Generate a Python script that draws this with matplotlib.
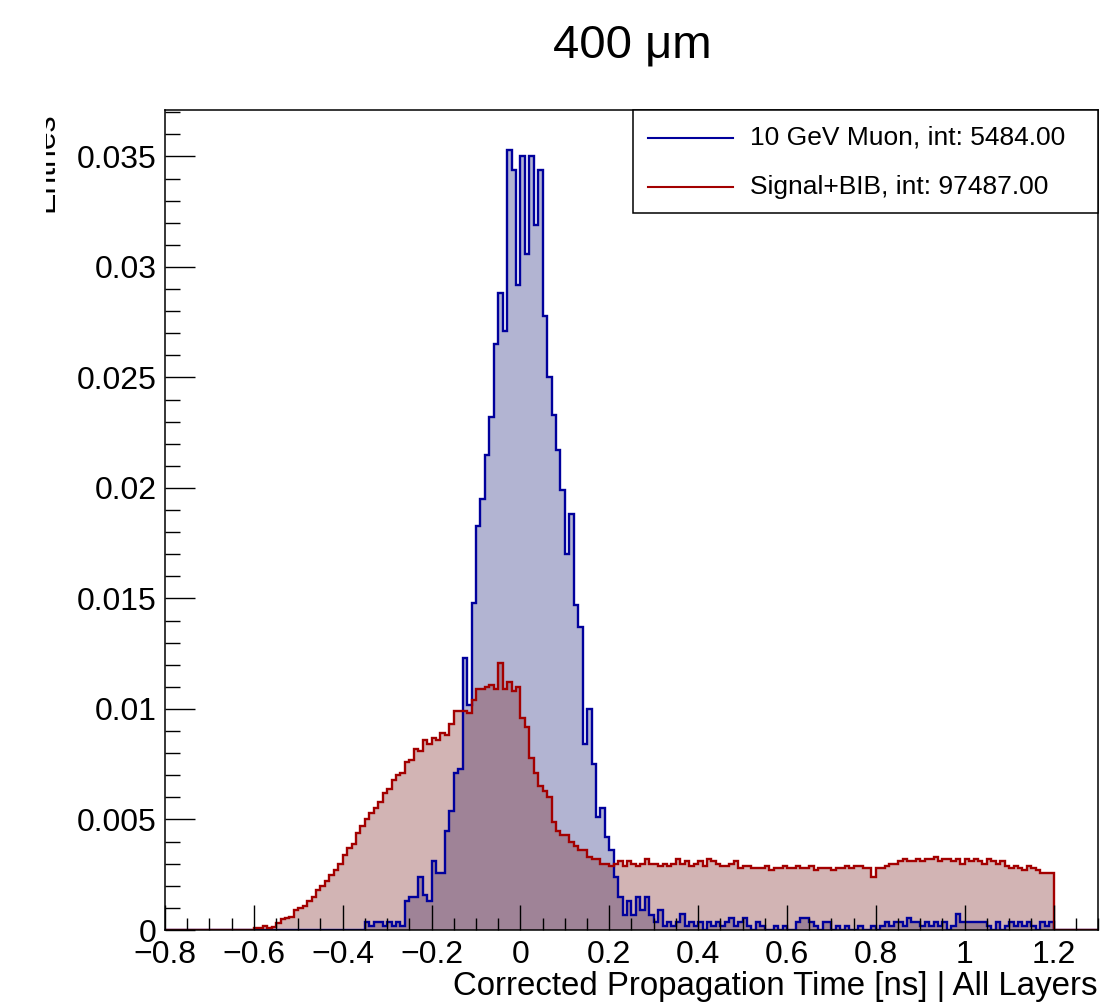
import numpy as np
import matplotlib.pyplot as plt
from matplotlib.lines import Line2D
from matplotlib.patches import Rectangle
from matplotlib.transforms import Bbox, TransformedBbox
from matplotlib.ticker import MultipleLocator, FuncFormatter

plt.rcParams['font.family'] = ['Liberation Sans', 'DejaVu Sans']

# bins: 0.01 ns from -0.8 to 1.3
edges = np.round(np.linspace(-0.8, 1.3, 211), 3)

# normalised bin contents, in units of 1e-3
bib_e3 = ([0.0] * 20 +
          [0.1, 0.1, 0.2, 0.1, 0.15, 0.3, 0.5, 0.55, 0.6, 0.9] +       # -0.60
          [1.0, 1.1, 1.3, 1.5, 1.8, 2.0, 2.2, 2.5, 2.7, 3.0] +         # -0.50
          [3.4, 3.7, 3.9, 4.4, 4.7, 5.0, 5.3, 5.5, 5.8, 6.2] +         # -0.40
          [6.4, 6.8, 7.0, 7.1, 7.6, 7.7, 8.2, 8.1, 8.6, 8.4] +         # -0.30
          [8.7, 8.6, 8.9, 8.8, 9.3, 9.9, 9.9, 9.9, 9.8, 10.4] +        # -0.20
          [10.9, 10.9, 11.0, 11.1, 10.9, 12.1, 10.9, 11.2, 10.8, 11.0] +  # -0.10
          [9.6, 9.2, 7.8, 7.1, 6.5, 6.3, 6.0, 4.9, 4.5, 4.3] +         # 0.00
          [4.3, 4.0, 3.8, 3.6, 3.6, 3.3, 3.2, 3.2, 3.0, 3.0] +         # 0.10
          [2.9, 3.0, 3.1, 2.9, 3.1, 3.0, 2.9, 3.0, 3.2, 3.0] +         # 0.20
          [3.0, 2.9, 3.0, 2.9, 3.0, 3.2, 3.0, 3.1, 2.9, 3.0] +         # 0.30
          [3.1, 2.9, 3.2, 3.1, 3.0, 2.9, 2.9, 3.0, 3.1, 2.8] +         # 0.40
          [2.9, 2.9, 2.8, 2.8, 2.8, 2.9, 2.7, 2.8, 2.8, 2.9] +         # 0.50
          [2.8, 2.8, 2.9, 2.8, 2.8, 2.9, 2.7, 2.8, 2.8, 2.8] +         # 0.60
          [2.7, 2.8, 2.8, 2.9, 2.8, 2.9, 2.9, 2.8, 2.8, 2.4] +         # 0.70
          [2.8, 2.8, 2.9, 3.0, 3.0, 3.1, 3.2, 3.1, 3.1, 3.2] +         # 0.80
          [3.1, 3.2, 3.2, 3.3, 3.1, 3.2, 3.2, 3.1, 3.2, 3.0] +         # 0.90
          [3.2, 3.1, 3.2, 3.1, 3.0, 3.2, 3.1, 3.0, 3.1, 2.9] +         # 1.00
          [2.8, 2.9, 2.8, 2.7, 2.9, 2.8, 2.7, 2.6, 2.6, 2.6] +         # 1.10
          [0.0] * 10)

muon_e3 = ([0.0] * 45 +
           [0.36, 0.18, 0.36, 0.36, 0.18, 0.36, 0.18, 0.36, 0.18] +          # -0.35
           [1.3, 1.5, 1.5, 2.4, 1.6, 1.3, 3.1, 2.6, 2.6, 4.5] +               # -0.26
           [5.4, 7.1, 7.3, 12.3, 10.2, 14.8, 18.3, 19.5, 21.5, 23.2] +        # -0.16
           [26.5, 28.8, 27.1, 35.3, 34.4, 29.2, 35.0, 30.6, 35.0, 31.9] +     # -0.06
           [34.4, 27.8, 25.0, 23.3, 21.7, 19.9, 17.0, 18.8, 14.7, 13.7] +     # 0.04
           [8.4, 10.0, 7.5, 5.1, 5.5, 4.2, 3.6, 2.4, 1.5, 0.7] +              # 0.14
           [1.3, 0.7, 1.5, 0.9, 1.5, 0.7, 0.36, 0.9, 0.18, 0.36] +            # 0.24
           [0.18, 0.36, 0.73, 0.18, 0.36, 0.18, 0.36, 0.0, 0.36, 0.18] +      # 0.34
           [0.36, 0.18, 0.36, 0.55, 0.18, 0.36, 0.55, 0.18, 0.0, 0.36] +      # 0.44
           [0.18, 0.0, 0.0, 0.18, 0.0, 0.18, 0.0, 0.0, 0.36, 0.55] +          # 0.54
           [0.55, 0.36, 0.18, 0.0, 0.36, 0.36, 0.0, 0.18, 0.0, 0.18] +        # 0.64
           [0.0, 0.0, 0.18, 0.0, 0.0, 0.18, 0.0, 0.18, 0.36, 0.18] +          # 0.74
           [0.36, 0.36, 0.18, 0.55, 0.36, 0.36, 0.18, 0.36, 0.18, 0.36] +     # 0.84
           [0.18, 0.36, 0.0, 0.18, 0.73, 0.36, 0.36, 0.36, 0.36, 0.36] +      # 0.94
           [0.36, 0.18, 0.0, 0.36, 0.0, 0.18, 0.36, 0.18, 0.36, 0.18] +       # 1.04
           [0.36, 0.18, 0.0, 0.36, 0.18, 0.36, 0.0, 0.0, 0.0, 0.0] +          # 1.14
           [0.0] * 6)

muon = np.array(muon_e3) / 1000.0
bib = np.array(bib_e3) / 1000.0

W, H = 1102, 1007
fig = plt.figure(figsize=(W / 100, H / 100), dpi=100)
ax = fig.add_axes([165 / W, 1 - 930 / H, (1098 - 165) / W, (930 - 110) / H])

blue_line = '#00009c'
red_line = '#a30000'
ax.stairs(muon, edges, fill=True, color=(35/255, 41/255, 126/255, 0.35), lw=0)
ax.stairs(bib, edges, fill=True, color=(126/255, 41/255, 41/255, 0.35), lw=0)
ax.stairs(muon, edges, color=blue_line, lw=1.7)
ax.stairs(bib, edges, color=red_line, lw=1.7)

ax.set_xlim(-0.8, 1.3)
ax.set_ylim(0, 0.0371)
ax.set_axisbelow(False)

def fmt(v, pos):
    s = '%g' % (round(v, 4) + 0.0)
    return s.replace('-', '\u2212')

ax.xaxis.set_major_locator(MultipleLocator(0.2))
ax.xaxis.set_minor_locator(MultipleLocator(0.05))
ax.yaxis.set_major_locator(MultipleLocator(0.005))
ax.yaxis.set_minor_locator(MultipleLocator(0.001))
ax.xaxis.set_major_formatter(FuncFormatter(fmt))
ax.yaxis.set_major_formatter(FuncFormatter(fmt))
ax.tick_params(which='both', direction='in', top=False, right=False, width=1, color='black')
ax.tick_params(axis='x', which='major', length=18, labelsize=23, pad=7)
ax.tick_params(axis='x', which='minor', length=8.6)
ax.tick_params(axis='y', which='major', length=21.6, labelsize=23, pad=6)
ax.tick_params(axis='y', which='minor', length=10.8)
for sp in ax.spines.values():
    sp.set_linewidth(1.1)

# title and axis titles
fig.text(632 / W, 1 - 45 / H, '400 \u03bcm', ha='center', va='center', fontsize=34)
fig.text(1098 / W, 12 / H, 'Corrected Propagation Time [ns] | All Layers',
         ha='right', va='baseline', fontsize=23.8)
yt = fig.text(60 / W, 1 - 112 / H, 'Entries', rotation=90, ha='right', va='top', fontsize=23)
yt.set_clip_box(TransformedBbox(Bbox([[46 / W, 0], [1, 1]]), fig.transFigure))
yt.set_clip_on(True)

# legend box
fig.patches.append(Rectangle((633 / W, 1 - 213 / H), (1098 - 633) / W, (213 - 110) / H,
                             transform=fig.transFigure, facecolor='white',
                             edgecolor='black', lw=1.1, zorder=5))
rows = [(138, blue_line, '10 GeV Muon, int: 5484.00'),
        (187, red_line, 'Signal+BIB, int: 97487.00')]
for py, c, label in rows:
    fig.lines.append(Line2D([648 / W, 733 / W], [1 - py / H, 1 - py / H],
                            transform=fig.transFigure, color=c, lw=1.5, zorder=6))
    fig.text(750 / W, 1 - py / H, label, ha='left', va='center', fontsize=19, zorder=6)

fig.savefig('out.png', dpi=100)
